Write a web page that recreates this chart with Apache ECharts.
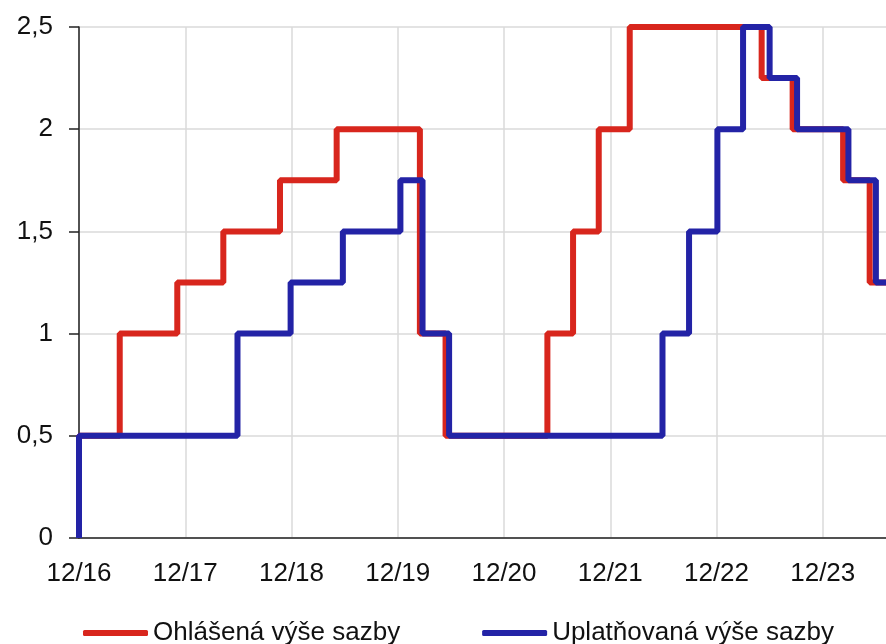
<!DOCTYPE html>
<html>
<head>
<meta charset="utf-8">
<script src="https://cdn.jsdelivr.net/npm/echarts@6/dist/echarts.min.js"></script>
<style>
  html, body { margin: 0; padding: 0; background: #fff; }
  #chart { width: 886px; height: 644px; }
</style>
</head>
<body>
<div id="chart"></div>
<script>
// x = months since 12/2016, step changes
const yearLabels = ['12/16', '12/17', '12/18', '12/19', '12/20', '12/21', '12/22', '12/23']
const announcedMonths = [0, 0, 4.6, 11.1, 16.3, 22.7, 29.1, 38.5, 41.4, 52.9, 55.8, 58.7, 62.2, 77.1, 80.6, 86.3, 89.3, 96]
const announcedRates = [0, 0.5, 1, 1.25, 1.5, 1.75, 2, 1, 0.5, 1, 1.5, 2, 2.5, 2.25, 2, 1.75, 1.25, 1.25]
const appliedMonths = [0, 0, 17.9, 23.9, 29.8, 36.3, 38.8, 41.8, 65.9, 68.9, 72.1, 75, 78, 81.1, 86.9, 90, 96]
const appliedRates = [0, 0.5, 1, 1.25, 1.5, 1.75, 1, 0.5, 1, 1.5, 2, 2.5, 2.25, 2, 1.75, 1.25, 1.25]

const zip = (xs, ys) => xs.map((x, i) => [x, ys[i]])

const font = 'Arial, "Liberation Sans", sans-serif'
const chart = echarts.init(document.getElementById('chart'))
chart.setOption({
  animation: false,
  textStyle: { fontFamily: font },
  // plot runs past the right edge of the picture (data cut at ~7/24)
  grid: {
    left: 79,
    top: 27,
    width: 850,
    bottom: 106,
    outerBoundsMode: 'none'
  },
  legend: {
    left: 78,
    top: 615,
    icon: 'roundRect',
    itemWidth: 65,
    itemHeight: 6,
    itemGap: 82,
    textStyle: { fontSize: 26, color: '#111', fontFamily: font }
  },
  xAxis: {
    type: 'value',
    min: 0,
    max: 96,
    interval: 12,
    axisLine: { lineStyle: { color: '#222', width: 1.5 } },
    axisTick: { show: false },
    axisLabel: {
      fontSize: 26,
      color: '#111',
      margin: 23,
      formatter: v => yearLabels[v / 12] || ''
    },
    splitLine: { show: true, lineStyle: { color: '#dadada', width: 1.5 } }
  },
  yAxis: {
    type: 'value',
    min: 0,
    max: 2.5,
    interval: 0.5,
    axisLine: { show: true, lineStyle: { color: '#222', width: 1.5 } },
    axisTick: { show: true, length: 10, lineStyle: { color: '#222', width: 1.5 } },
    axisLabel: {
      fontSize: 26,
      color: '#111',
      margin: 26,
      formatter: v => String(v).replace('.', ',')
    },
    splitLine: { lineStyle: { color: '#dadada', width: 1.5 } }
  },
  series: [{
    name: 'Ohlášená výše sazby',
    type: 'line',
    step: 'end',
    symbol: 'none',
    clip: false,
    color: '#d8261d',
    lineStyle: { width: 6, color: '#d8261d' },
    data: zip(announcedMonths, announcedRates)
  }, {
    name: 'Uplatňovaná výše sazby',
    type: 'line',
    step: 'end',
    symbol: 'none',
    clip: false,
    color: '#2323a6',
    lineStyle: { width: 6, color: '#2323a6' },
    data: zip(appliedMonths, appliedRates)
  }]
})
</script>
</body>
</html>
